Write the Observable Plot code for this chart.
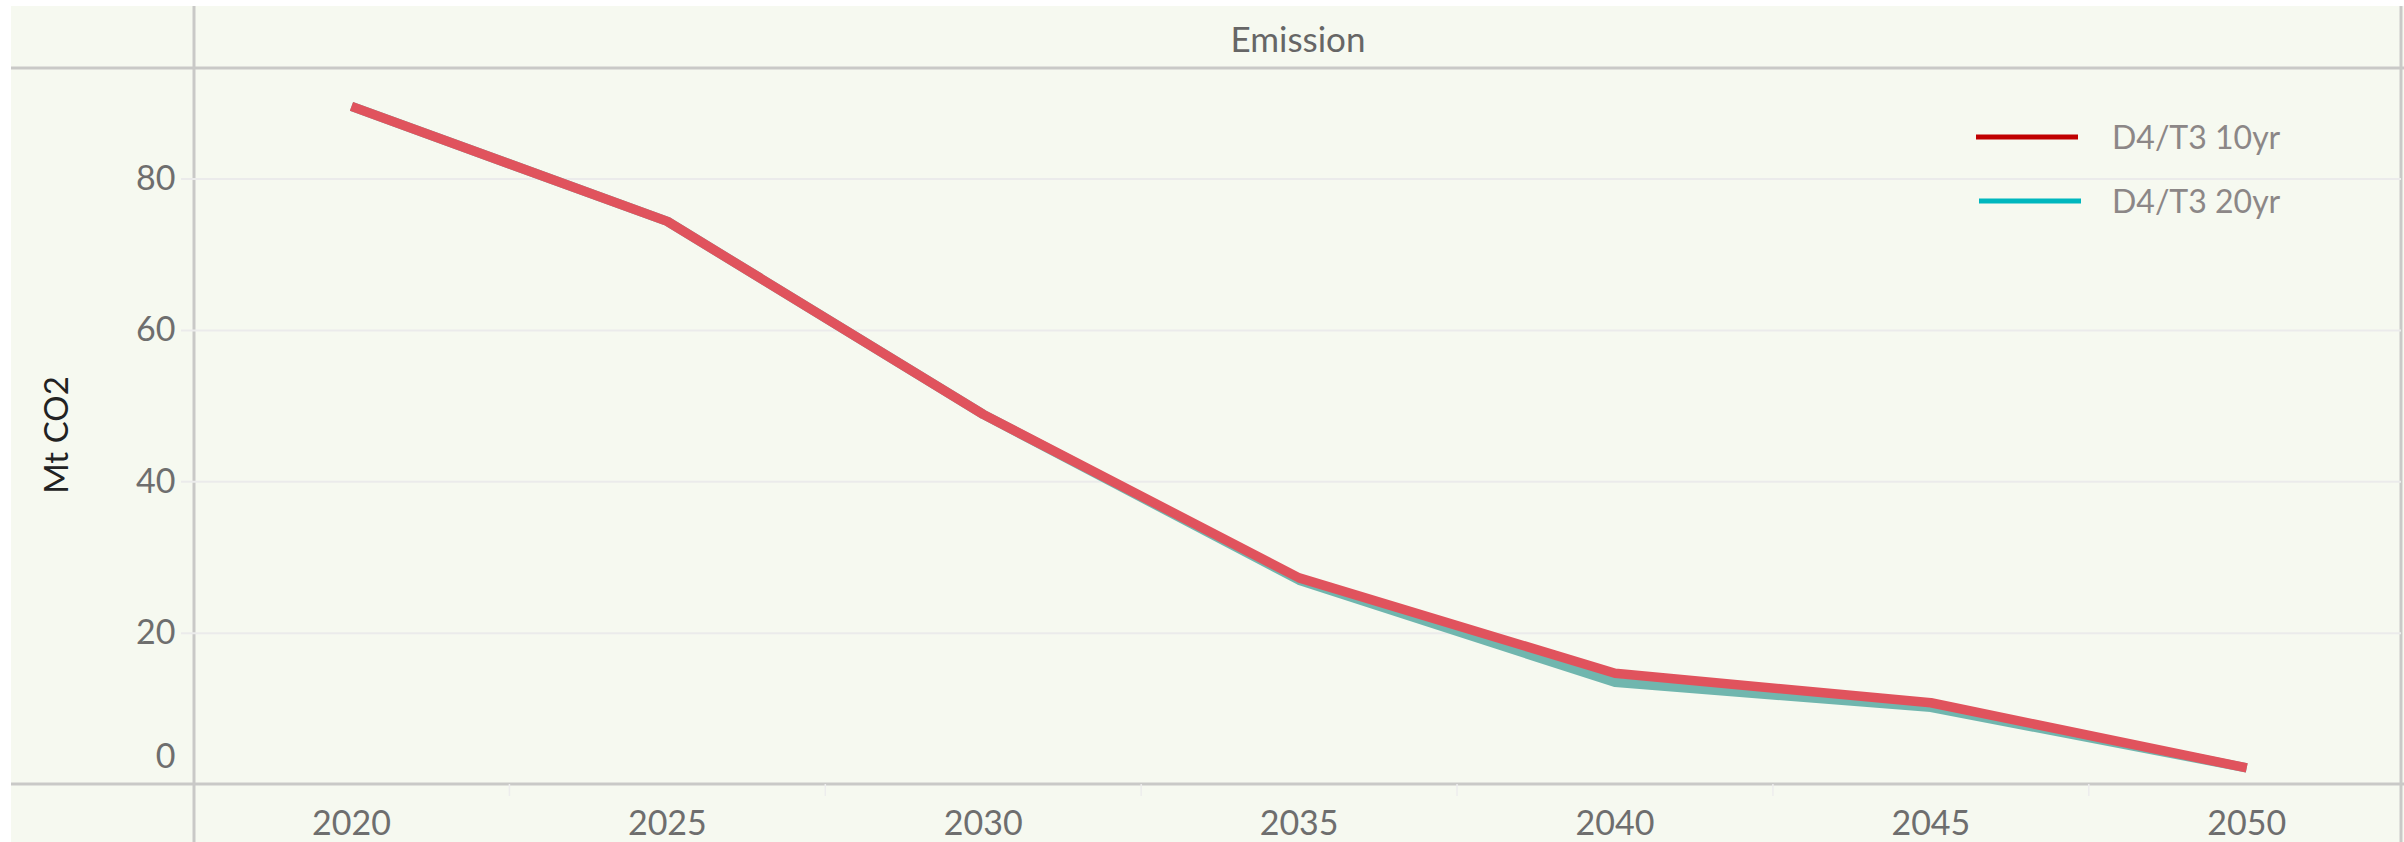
<!DOCTYPE html>
<html><head><meta charset="utf-8">
<script src="https://cdn.jsdelivr.net/npm/d3@7"></script>
<script src="https://cdn.jsdelivr.net/npm/@observablehq/plot@0.6"></script>
<style>
html,body{margin:0;padding:0;background:#fff;}
#chart{width:2404px;height:842px;}
</style></head><body><div id="chart"></div>
<script>
const years = [2020, 2025, 2030, 2035, 2040, 2045, 2050];
const d4t3_10yr = [89.6, 74.4, 48.9, 27.3, 14.7, 10.8, 2.2];
const d4t3_20yr = [89.6, 74.4, 48.9, 27.0, 13.5, 10.2, 2.2];
const seriesNames = ["D4/T3 10yr", "D4/T3 20yr"];
const legendColors = ["#c00000", "#00b7be"];
const lineColors = ["#e0535d", "#70b6ae"];
const yTicks = [20, 40, 60, 80];
const xTicks = [2020, 2025, 2030, 2035, 2040, 2045, 2050];
const minorXTicks = [2022.5, 2027.5, 2032.5, 2037.5, 2042.5, 2047.5];
const facetTitle = "Emission";
const yTitle = "Mt CO2";

const rows = [];
years.forEach((yr, i) => rows.push({year: yr, value: d4t3_20yr[i], series: seriesNames[1]}));
years.forEach((yr, i) => rows.push({year: yr, value: d4t3_10yr[i], series: seriesNames[0]}));

const W = 2404, H = 842;
const mL = 194, mR = 3, mT = 68, mB = 58;
const tickColor = "#6e6e6e";

const chart = Plot.plot({
  width: W, height: H,
  marginLeft: mL, marginRight: mR, marginTop: mT, marginBottom: mB,
  style: {fontFamily: "Lato, 'Open Sans', sans-serif", background: "transparent"},
  x: {domain: [2017.515, 2052.45]},
  y: {domain: [0, 94.6]},
  color: {domain: seriesNames, range: lineColors},
  marks: [
    Plot.gridY(yTicks, {stroke: "#ebebeb", strokeOpacity: 1, strokeWidth: 2, insetLeft: -13}),
    Plot.axisX(minorXTicks, {tickSize: 12, tickFormat: () => "", color: "#ededed", strokeWidth: 1.5, label: null}),
    Plot.axisX(xTicks, {tickSize: 0, tickPadding: 26, fontSize: 34, color: tickColor, label: null, tickFormat: d => String(d)}),
    Plot.axisY(yTicks, {tickSize: 0, tickPadding: 19, fontSize: 34, color: tickColor, label: null}),
    Plot.axisY([0], {tickSize: 0, tickPadding: 19, fontSize: 34, color: tickColor, label: null, dy: -27}),
    Plot.line(rows, {x: "year", y: "value", stroke: "series", z: "series", strokeWidth: 9.5, strokeLinejoin: "round", strokeLinecap: "butt"}),
    Plot.text([facetTitle], {frameAnchor: "top", lineAnchor: "middle", dy: -28, fontSize: 35, fill: "#666666"})
  ]
});

const svg = d3.select(chart);
// background + panel lines
const deco = svg.insert("g", ":first-child");
deco.append("rect").attr("x", 11).attr("y", 6).attr("width", W - 11).attr("height", H - 6).attr("fill", "#f6f9f0");
const lineStyle = sel => sel.attr("stroke", "#c9c9c7").attr("stroke-width", 3);
deco.append("line").attr("x1", mL).attr("x2", mL).attr("y1", 6).attr("y2", H).call(lineStyle);
deco.append("line").attr("x1", W - mR).attr("x2", W - mR).attr("y1", 6).attr("y2", H).call(lineStyle);
deco.append("line").attr("x1", 11).attr("x2", W).attr("y1", mT).attr("y2", mT).call(lineStyle);
deco.append("line").attr("x1", 11).attr("x2", W).attr("y1", H - mB).attr("y2", H - mB).call(lineStyle);

// y title
svg.append("text").attr("transform", "translate(60,435) rotate(-90)")
  .attr("text-anchor", "middle").attr("dominant-baseline", "middle")
  .attr("font-family", "Lato, sans-serif").attr("font-size", 33).attr("fill", "#222")
  .text(yTitle);

// legend
const leg = svg.append("g").attr("font-family", "Lato, sans-serif").attr("font-size", 32)
  .attr("fill", "#8c8787").attr("text-anchor", "start");
const legY = [137, 201];
seriesNames.forEach((name, i) => {
  leg.append("line").attr("x1", 1976 + i * 3).attr("x2", 2078 + i * 3).attr("y1", legY[i]).attr("y2", legY[i])
    .attr("stroke", legendColors[i]).attr("stroke-width", 5);
  leg.append("text").attr("x", 2112).attr("y", legY[i] + 12).attr("text-anchor", "start").text(name);
});

document.getElementById("chart").appendChild(chart);
</script>
</body></html>
